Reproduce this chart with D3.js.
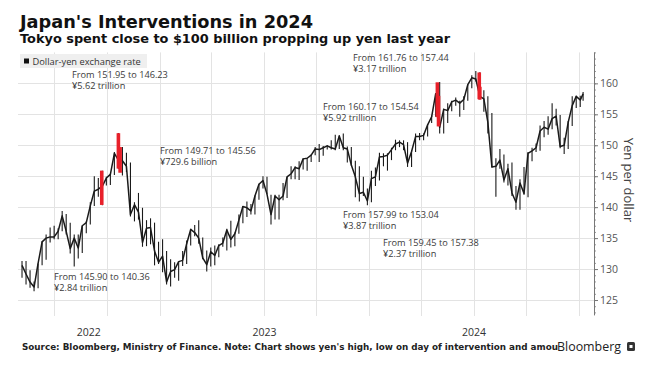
<!DOCTYPE html>
<html><head><meta charset="utf-8">
<script src="https://cdn.jsdelivr.net/npm/d3@7"></script>
<style>body{margin:0;background:#fff}svg{display:block}</style>
</head><body><svg id="c" width="650" height="368"></svg>
<script>
// ---------- DATA ----------
const weekDates = [
"2022-05-06","2022-05-13","2022-05-20","2022-05-27","2022-06-03","2022-06-10","2022-06-17","2022-06-24","2022-07-01","2022-07-08",
"2022-07-15","2022-07-22","2022-07-29","2022-08-05","2022-08-12","2022-08-19","2022-08-26","2022-09-02","2022-09-09","2022-09-16",
"2022-09-23","2022-09-30","2022-10-07","2022-10-14","2022-10-21","2022-10-28","2022-11-04","2022-11-11","2022-11-18","2022-11-25",
"2022-12-02","2022-12-09","2022-12-16","2022-12-23","2022-12-30","2023-01-06","2023-01-13","2023-01-20","2023-01-27","2023-02-03",
"2023-02-10","2023-02-17","2023-02-24","2023-03-03","2023-03-10","2023-03-17","2023-03-24","2023-03-31","2023-04-07","2023-04-14",
"2023-04-21","2023-04-28","2023-05-05","2023-05-12","2023-05-19","2023-05-26","2023-06-02","2023-06-09","2023-06-16","2023-06-23",
"2023-06-30","2023-07-07","2023-07-14","2023-07-21","2023-07-28","2023-08-04","2023-08-11","2023-08-18","2023-08-25","2023-09-01",
"2023-09-08","2023-09-15","2023-09-22","2023-09-29","2023-10-06","2023-10-13","2023-10-20","2023-10-27","2023-11-03","2023-11-10",
"2023-11-17","2023-11-24","2023-12-01","2023-12-08","2023-12-15","2023-12-22","2023-12-29","2024-01-05","2024-01-12","2024-01-19",
"2024-01-26","2024-02-02","2024-02-09","2024-02-16","2024-02-23","2024-03-01","2024-03-08","2024-03-15","2024-03-22","2024-03-29",
"2024-04-05","2024-04-12","2024-04-19","2024-04-26","2024-05-03","2024-05-10","2024-05-17","2024-05-24","2024-05-31","2024-06-07",
"2024-06-14","2024-06-21","2024-06-28","2024-07-05","2024-07-12","2024-07-19","2024-07-26","2024-08-02","2024-08-09","2024-08-16",
"2024-08-23","2024-08-30","2024-09-06","2024-09-13","2024-09-20","2024-09-27","2024-10-04","2024-10-11","2024-10-18","2024-10-25",
"2024-11-01","2024-11-08","2024-11-15","2024-11-22","2024-11-29","2024-12-06","2024-12-13","2024-12-20","2024-12-27","2025-01-03",
"2025-01-08"];
const weekHigh = [
131.3,131.3,129.8,128.0,130.9,134.5,135.6,136.7,137.0,136.6,
139.4,138.9,137.5,135.6,135.6,137.0,137.7,140.8,145.0,144.7,
145.9,144.9,145.4,148.9,152.0,149.7,148.8,147.2,140.8,142.3,
139.9,137.9,138.2,137.5,134.4,134.8,132.9,131.6,131.1,131.2,
132.9,134.6,136.5,137.1,137.9,135.1,133.0,133.5,133.8,134.0,
135.1,136.5,137.8,135.9,138.8,140.2,140.9,140.5,141.9,143.8,
145.0,144.9,142.0,142.0,142.0,143.9,144.9,146.6,146.6,147.4,
147.9,147.9,148.5,149.7,150.2,149.9,150.0,150.8,151.7,151.6,
151.9,149.8,149.7,147.5,146.6,144.9,143.0,145.9,146.4,148.8,
148.7,148.7,149.6,150.9,150.8,150.8,150.5,149.2,151.9,152.0,
151.9,153.4,154.8,158.4,160.2,155.9,156.8,157.2,157.7,157.2,
157.9,159.8,161.3,162.0,161.8,158.9,157.9,155.2,147.9,149.4,
148.5,147.0,147.2,143.4,144.5,146.5,148.9,149.6,150.3,153.2,
153.9,154.7,156.8,155.9,154.9,151.2,153.9,157.9,158.0,158.0,
158.6];
const weekLow = [
128.6,127.5,127.0,126.4,126.9,130.6,131.5,134.3,134.8,134.8,
136.1,135.6,132.5,130.4,131.7,132.6,135.8,137.2,140.2,141.7,
140.3,143.5,143.6,145.2,146.2,145.1,145.7,138.5,137.7,138.0,
133.6,133.7,134.0,130.6,130.8,129.5,127.5,127.2,128.6,128.1,
130.5,130.8,133.8,135.3,134.1,131.6,129.6,130.4,130.6,131.9,
133.6,133.0,133.5,133.7,135.7,137.4,138.4,138.8,138.8,141.2,
143.0,142.1,137.2,138.0,138.0,141.1,141.5,144.5,144.5,144.4,
146.1,145.9,147.3,148.4,147.3,148.3,149.3,149.3,149.2,149.4,
149.2,147.2,146.7,141.6,140.9,141.8,140.3,140.8,143.4,144.3,
146.6,145.9,147.6,149.2,149.7,149.2,146.5,146.5,148.9,150.8,
150.8,151.4,153.6,154.6,151.9,151.9,153.6,155.5,156.4,154.6,
155.7,157.2,159.2,160.3,157.4,155.4,151.9,146.4,141.7,146.2,
144.0,143.5,141.8,139.6,139.6,142.0,141.6,147.4,148.9,149.1,
151.3,151.7,152.6,153.2,149.5,148.6,149.4,153.1,156.0,156.2,
157.2];
const weekClose = [
130.6,129.2,127.9,127.1,130.9,134.4,135.0,135.2,135.2,136.1,
138.6,136.1,133.3,135.0,133.4,137.0,137.5,140.2,142.6,142.9,
143.4,144.7,145.3,148.7,147.6,147.5,146.6,138.8,140.4,139.2,
134.3,136.6,136.7,132.9,131.1,132.1,127.9,129.6,129.9,131.2,
131.4,134.1,136.4,135.9,135.0,131.8,130.7,132.8,132.2,133.8,
134.2,136.3,134.8,135.7,137.9,140.1,139.9,139.4,141.8,143.7,
144.3,142.1,138.8,141.8,141.2,141.8,144.9,145.4,146.4,146.2,
147.8,147.9,148.4,149.4,149.3,149.6,149.9,149.6,149.4,151.5,
149.6,149.4,146.8,144.9,142.2,142.4,141.0,144.6,144.9,148.1,
148.2,148.4,149.3,150.2,150.5,150.1,147.1,149.0,151.4,151.4,
151.6,153.3,154.6,158.3,152.9,155.8,155.6,157.0,157.3,156.8,
157.4,159.8,160.9,160.7,157.9,157.5,153.7,146.5,146.6,147.6,
144.4,146.2,142.3,140.8,143.9,142.2,148.7,149.1,149.6,152.3,
152.9,152.6,154.3,154.7,149.8,150.0,153.7,156.4,157.9,157.3,
158.3];

const interventionDates = ["2022-09-22","2022-10-21","2022-10-24","2024-04-29","2024-05-01","2024-07-11","2024-07-12"];
const interventionHigh  = [145.90,151.95,149.71,160.17,157.99,161.76,159.45];
const interventionLow   = [140.36,146.23,145.56,154.54,153.04,157.44,157.38];
const interventionAmount = ["¥2.84 trillion","¥5.62 trillion","¥729.6 billion","¥5.92 trillion","¥3.87 trillion","¥3.17 trillion","¥2.37 trillion"];

const yTicks = [125,130,135,140,145,150,155,160];
const yearLabels = ["2022","2023","2024"];

// ---------- LAYOUT ----------
const annotationPos = [[54,280],[72,78],[160,154],[323,110],[343,218],[353,61],[383,246]];
const M = {left:18, right:594, top:52.4, bottom:312.4};

const svg = d3.select("#c");
const parse = d3.utcParse("%Y-%m-%d");
const x = d3.scaleUtc().domain([Date.UTC(2022,3,29), Date.UTC(2025,0,27)]).range([M.left, M.right]);
const y = d3.scaleLinear().domain([123,165]).range([M.bottom, M.top]);

// gridlines
const qTicks = x.ticks(d3.utcMonth.every(3));
svg.append("g").selectAll("line").data(qTicks).join("line")
  .attr("x1", d=>Math.round(x(d))+0.5).attr("x2", d=>Math.round(x(d))+0.5)
  .attr("y1", M.top).attr("y2", 316).attr("stroke","#e3e3e3").attr("stroke-width",1);
svg.append("g").selectAll("line").data(yTicks).join("line")
  .attr("x1", M.left).attr("x2", M.right)
  .attr("y1", d=>Math.round(y(d))+0.5).attr("y2", d=>Math.round(y(d))+0.5)
  .attr("stroke","#e3e3e3").attr("stroke-width",1);

// legend
svg.append("rect").attr("x",20).attr("y",54).attr("width",127).attr("height",14).attr("fill","#efefef");
svg.append("rect").attr("x",24).attr("y",58.5).attr("width",5).attr("height",5).attr("fill","#111");
svg.append("text").attr("x",32.5).attr("y",64.5).attr("font-family","Open Sans").attr("font-size",9.3)
  .attr("fill","#333").text("Dollar-yen exchange rate");

// price series
const pts = weekDates.map((d,i)=>({d:parse(d), h:weekHigh[i], l:weekLow[i], c:weekClose[i]}));
svg.append("g").selectAll("line").data(pts).join("line")
  .attr("x1", d=>x(d.d)).attr("x2", d=>x(d.d))
  .attr("y1", d=>y(d.h)).attr("y2", d=>y(d.l))
  .attr("stroke","#1a1a1a").attr("stroke-width",1.1);
svg.append("path").datum(pts)
  .attr("d", d3.line().x(d=>x(d.d)).y(d=>y(d.c)))
  .attr("fill","none").attr("stroke","#1a1a1a").attr("stroke-width",1.5).attr("stroke-linejoin","round");

// interventions
const iv = interventionDates.map((d,i)=>({d:parse(d), h:interventionHigh[i], l:interventionLow[i], a:interventionAmount[i]}));
svg.append("g").selectAll("rect").data(iv).join("rect")
  .attr("x", d=>x(d.d)-1.8).attr("width",3.6)
  .attr("y", d=>y(d.h)).attr("height", d=>y(d.l)-y(d.h))
  .attr("fill","#e8202a");

// annotations
const ann = svg.append("g").attr("font-family","Open Sans").attr("font-size",9.2).attr("fill","#3a3a3a");
iv.forEach((d,i)=>{
  const [ax,ay] = annotationPos[i];
  const t = ann.append("text").attr("x",ax).attr("y",ay);
  t.append("tspan").attr("x",ax).text(`From ${d.h.toFixed(2)} to ${d.l.toFixed(2)}`);
  t.append("tspan").attr("x",ax).attr("dy",11).text(d.a);
});

// right axis
const axisG = svg.append("g").attr("transform",`translate(${M.right},0)`);
axisG.call(d3.axisRight(y).tickValues(d3.range(123,166,1)).tickSize(2).tickFormat(""));
axisG.select(".domain").remove();
const major = d3.axisRight(y).tickValues(yTicks).tickSize(4).tickPadding(2);
const mg = svg.append("g").attr("transform",`translate(${M.right},0)`).call(major);
mg.select(".domain").attr("d",`M0.5,${M.top}V${M.bottom+3}`).attr("stroke","#777");
mg.selectAll(".tick line").attr("stroke","#777");
axisG.selectAll(".tick line").attr("stroke","#999");
mg.selectAll(".tick text").attr("font-family","Open Sans").attr("font-size",10.5).attr("fill","#555");
svg.append("text").attr("transform",`translate(624,180) rotate(90)`).attr("text-anchor","middle")
  .attr("font-family","Open Sans").attr("font-size",13).attr("fill","#444").text("Yen per dollar");

// year labels
const d0 = x.domain()[0], d1 = x.domain()[1];
yearLabels.forEach(yl=>{
  const s = new Date(Math.max(+d0, Date.UTC(+yl,0,1)));
  const e = new Date(Math.min(+d1, Date.UTC(+yl+1,0,1)));
  svg.append("text").attr("x",(x(s)+x(e))/2).attr("y",336).attr("text-anchor","middle")
    .attr("font-family","Open Sans").attr("font-size",10.5).attr("fill","#333").text(yl);
});

// titles
svg.append("text").attr("x",20).attr("y",28).attr("font-family","DejaVu Sans").attr("font-weight","bold")
  .attr("font-size",17.7).attr("fill","#111").attr("textLength",293).attr("lengthAdjust","spacingAndGlyphs")
  .text("Japan's Interventions in 2024");
svg.append("text").attr("x",20).attr("y",43).attr("font-family","DejaVu Sans").attr("font-weight","bold")
  .attr("font-size",12.8).attr("fill","#111").attr("textLength",430).attr("lengthAdjust","spacingAndGlyphs")
  .text("Tokyo spent close to $100 billion propping up yen last year");

// source
svg.append("text").attr("x",22).attr("y",350).attr("font-family","DejaVu Sans").attr("font-weight","bold")
  .attr("font-size",8.3).attr("fill","#222").attr("textLength",536).attr("lengthAdjust","spacingAndGlyphs")
  .text("Source: Bloomberg, Ministry of Finance. Note: Chart shows yen's high, low on day of intervention and amou");
svg.append("text").attr("x",557).attr("y",351).attr("font-family","Open Sans").attr("font-size",12.4)
  .attr("fill","#222").attr("textLength",64).attr("lengthAdjust","spacingAndGlyphs").text("Bloomberg");
svg.append("rect").attr("x",627).attr("y",342).attr("width",8).attr("height",9).attr("rx",1.5).attr("fill","#333");
svg.append("rect").attr("x",629.5).attr("y",345).attr("width",3).attr("height",3).attr("fill","#fff");
</script>
</body></html>
